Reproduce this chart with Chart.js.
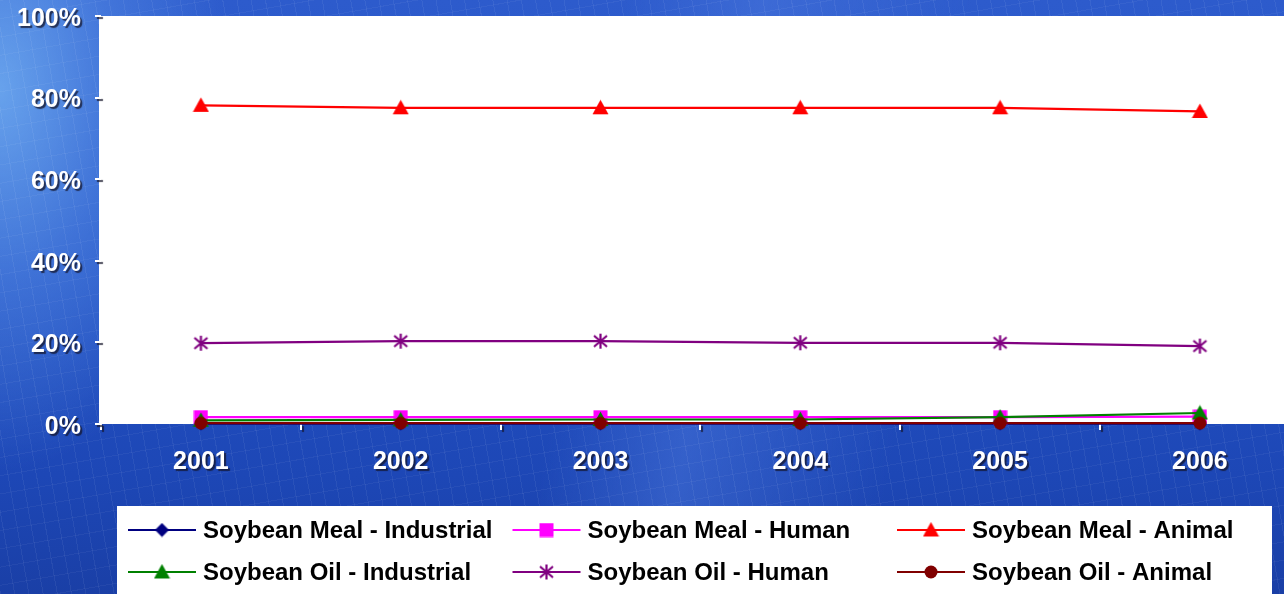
<!DOCTYPE html>
<html>
<head>
<meta charset="utf-8">
<title>Soybean use by sector</title>
<script src="https://cdn.jsdelivr.net/npm/chart.js@4.4.1/dist/chart.umd.min.js"></script>
<style>
  html, body { margin: 0; padding: 0; overflow: hidden; }
  body {
    width: 1284px; height: 594px;
    background:
      repeating-linear-gradient(80deg, rgba(255,255,255,0.06) 0 1px, rgba(255,255,255,0) 1px 14px),
      repeating-linear-gradient(170deg, rgba(255,255,255,0.045) 0 1px, rgba(255,255,255,0) 1px 18px),
      radial-gradient(ellipse 230px 380px at 0px 90px, rgba(110,170,240,0.9) 0%, rgba(85,140,230,0.55) 50%, rgba(60,110,215,0) 100%),
      linear-gradient(100deg, rgba(0,0,0,0) 45%, rgba(80,125,225,0.45) 55%, rgba(0,0,0,0) 70%),
      linear-gradient(180deg, #2d5bcc 0%, #2452c4 45%, #1d47b6 80%, #1a3fa6 100%);
  }
  #wrap { position: absolute; left: 0; top: 0; }
</style>
</head>
<body>
<div id="wrap"><canvas id="soyChart" width="1308" height="594"></canvas></div>
<script>
// years on the x axis
const years = ['2001', '2002', '2003', '2004', '2005', '2006'];

// share of each use, in percent
const mealIndustrial = [0.1, 0.1, 0.1, 0.1, 0.1, 0.1];
const mealHuman = [1.7, 1.7, 1.7, 1.7, 1.7, 1.8];
const mealAnimal = [78.1, 77.5, 77.5, 77.5, 77.5, 76.6];
const oilIndustrial = [0.9, 1.0, 1.1, 1.1, 1.7, 2.7];
const oilHuman = [19.8, 20.3, 20.3, 19.9, 19.9, 19.1];
const oilAnimal = [0.2, 0.2, 0.2, 0.2, 0.2, 0.2];

const seriesNames = [
  'Soybean Meal - Industrial', 'Soybean Meal - Human', 'Soybean Meal - Animal',
  'Soybean Oil - Industrial', 'Soybean Oil - Human', 'Soybean Oil - Animal'
];
const seriesData = [mealIndustrial, mealHuman, mealAnimal, oilIndustrial, oilHuman, oilAnimal];
const seriesColors = ['#000080', '#FF00FF', '#FF0000', '#008000', '#800080', '#800000'];
const seriesShapes = ['diamond', 'square', 'triangle', 'triangle', 'star', 'circle'];

const yTicks = [0, 20, 40, 60, 80, 100];

// small canvases used as point markers (chart and legend)
function makeMarker(shape, color) {
  const sizes = { diamond: 15, square: 15, triangle: 17, star: 17, circle: 14 };
  const s = sizes[shape];
  const c = document.createElement('canvas');
  c.width = s; c.height = s;
  const g = c.getContext('2d');
  const m = s / 2;
  g.fillStyle = color;
  g.strokeStyle = color;
  g.beginPath();
  if (shape === 'diamond') {
    g.moveTo(m, 0.5); g.lineTo(s - 0.5, m); g.lineTo(m, s - 0.5); g.lineTo(0.5, m);
    g.closePath(); g.fill();
  } else if (shape === 'square') {
    g.fillRect(0.5, 0.5, s - 1, s - 1);
  } else if (shape === 'triangle') {
    g.moveTo(m, 0.5); g.lineTo(s - 0.5, s - 2); g.lineTo(0.5, s - 2);
    g.closePath(); g.fill();
  } else if (shape === 'star') {
    g.lineWidth = 2.2;
    g.moveTo(m, 1); g.lineTo(m, s - 1);
    g.moveTo(2, 3); g.lineTo(s - 2, s - 3);
    g.moveTo(s - 2, 3); g.lineTo(2, s - 3);
    g.stroke();
  } else {
    g.arc(m, m, m - 0.5, 0, Math.PI * 2);
    g.fill();
  }
  return c;
}

const markers = seriesShapes.map((sh, i) => makeMarker(sh, seriesColors[i]));

const datasets = seriesNames.map((name, i) => ({
  label: name,
  data: seriesData[i],
  borderColor: seriesColors[i],
  backgroundColor: seriesColors[i],
  borderWidth: 2.2,
  pointStyle: markers[i],
  pointRadius: 6,
  pointHoverRadius: 6,
  tension: 0,
  clip: false,
  order: seriesNames.length - i
}));

const tickFont = { family: 'Arial, "Liberation Sans", sans-serif', size: 25, weight: 'bold' };

// white plot background, shadowed axis text, custom legend box
const panelPlugin = {
  id: 'panel',
  beforeDraw(chart) {
    const ctx = chart.ctx;
    const a = chart.chartArea;
    ctx.save();
    ctx.fillStyle = '#ffffff';
    ctx.fillRect(a.left - 2, a.top, chart.width - a.left + 2, a.bottom - a.top);
    ctx.restore();
    ctx.shadowColor = 'rgba(20,20,40,0.75)';
    ctx.shadowOffsetX = 2;
    ctx.shadowOffsetY = 2;
    ctx.shadowBlur = 1;
  },
  beforeDatasetsDraw(chart) {
    const ctx = chart.ctx;
    ctx.shadowColor = 'rgba(0,0,0,0)';
    ctx.shadowOffsetX = 0;
    ctx.shadowOffsetY = 0;
    ctx.shadowBlur = 0;
  },
  afterDraw(chart) {
    const ctx = chart.ctx;
    ctx.save();
    ctx.shadowColor = 'rgba(0,0,0,0)';
    ctx.fillStyle = '#ffffff';
    ctx.fillRect(117, 506, 1272 - 117, 100);
    ctx.font = 'bold 24px Arial, "Liberation Sans", sans-serif';
    ctx.textBaseline = 'middle';
    ctx.textAlign = 'left';
    chart.data.datasets.forEach((ds, i) => {
      const col = i % 3;
      const row = Math.floor(i / 3);
      const x0 = 128 + col * 384.5;
      const y = 530 + row * 42;
      ctx.strokeStyle = ds.borderColor;
      ctx.lineWidth = 2.2;
      ctx.beginPath();
      ctx.moveTo(x0, y);
      ctx.lineTo(x0 + 68, y);
      ctx.stroke();
      const mk = ds.pointStyle;
      ctx.drawImage(mk, x0 + 34 - mk.width / 2, y - mk.height / 2);
      ctx.fillStyle = '#000000';
      ctx.fillText(ds.label, x0 + 75, y + 1);
    });
    ctx.restore();
  }
};

new Chart(document.getElementById('soyChart'), {
  type: 'line',
  data: { labels: years, datasets: datasets },
  options: {
    responsive: false,
    animation: false,
    devicePixelRatio: 1,
    layout: { padding: { top: 16, right: 1, left: 0, bottom: 0 } },
    plugins: {
      legend: { display: false },
      tooltip: { enabled: false }
    },
    scales: {
      x: {
        offset: true,
        grid: {
          offset: true,
          drawOnChartArea: false,
          drawTicks: true,
          tickLength: 6,
          color: '#ffffff',
          lineWidth: 2
        },
        border: { display: false },
        ticks: { color: '#ffffff', font: tickFont, padding: 17, maxRotation: 0 },
        afterFit(scale) {
          scale.height = 170;
          scale.paddingLeft = 0;
          scale.paddingRight = 0;
        }
      },
      y: {
        min: 0,
        max: 100,
        afterBuildTicks(scale) { scale.ticks = yTicks.map(v => ({ value: v })); },
        grid: {
          drawOnChartArea: false,
          drawTicks: true,
          tickLength: 6,
          color: '#ffffff',
          lineWidth: 2
        },
        border: { display: false },
        ticks: {
          color: '#ffffff',
          font: tickFont,
          padding: 14,
          labelOffset: 3,
          callback: v => v + '%'
        },
        afterFit(scale) {
          scale.width = 101;
          scale.paddingTop = 0;
          scale.paddingBottom = 0;
        }
      }
    }
  },
  plugins: [panelPlugin]
});
</script>
</body>
</html>
